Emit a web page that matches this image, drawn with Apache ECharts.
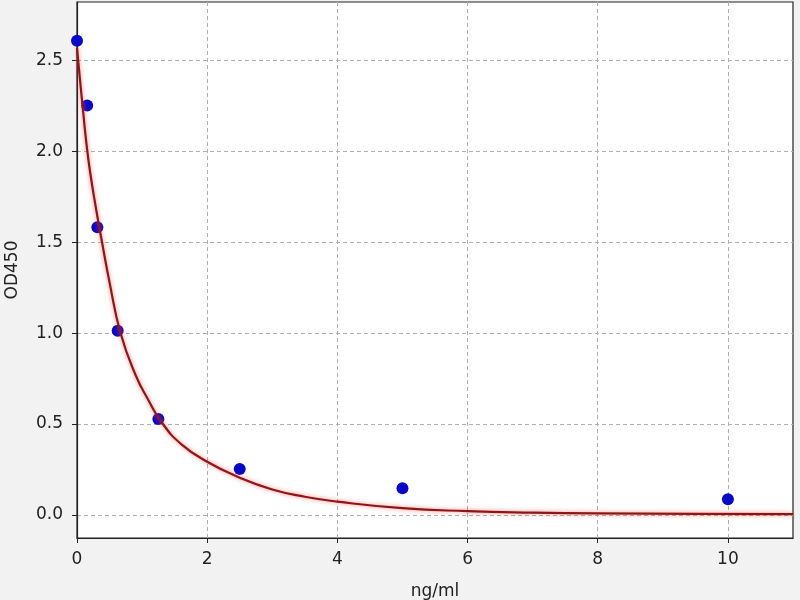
<!DOCTYPE html>
<html><head><meta charset="utf-8">
<script src="https://cdn.jsdelivr.net/npm/echarts@6/dist/echarts.min.js"></script>
<style>html,body{margin:0;padding:0;background:#f2f2f2;}#c{width:800px;height:600px;}</style>
</head><body><div id="c"></div>
<script>
// Measured standards
const conc = [0, 0.156, 0.3125, 0.625, 1.25, 2.5, 5, 10];
const od = [2.61, 2.253, 1.583, 1.014, 0.528, 0.253, 0.147, 0.086];
// Fitted curve
const curveX = [0, 0.05, 0.1, 0.14, 0.2, 0.3, 0.37, 0.5, 0.67, 0.9, 1.1, 1.3, 1.6, 2.0, 2.5, 3.0, 3.5, 4.0, 5.0, 6.0, 7.0, 8.0, 9.5, 11];
const curveY = [2.57, 2.38, 2.2, 2.06, 1.89, 1.67, 1.53, 1.28, 1.0, 0.77, 0.63, 0.51, 0.39, 0.293, 0.205, 0.14, 0.1, 0.073, 0.037, 0.021, 0.013, 0.009, 0.006, 0.004];
const xTicks = [0, 2, 4, 6, 8, 10];
const yTicks = [0, 0.5, 1.0, 1.5, 2.0, 2.5];

const chart = echarts.init(document.getElementById('c'));
const font = 'DejaVu Sans';
chart.setOption({
  backgroundColor: '#f2f2f2',
  animation: false,
  grid: {left: 77, right: 7, top: 2, bottom: 62, outerBoundsMode: 'none', containLabel: false,
    show: true, backgroundColor: '#ffffff', borderColor: '#222', borderWidth: 1.2},
  xAxis: {
    type: 'value', min: 0, max: 11,
    name: 'ng/ml', nameLocation: 'middle', nameGap: 45,
    nameTextStyle: {fontFamily: font, fontSize: 17, color: '#222'},
    axisLine: {show: true, onZero: false, lineStyle: {color: '#222', width: 1.2}},
    axisTick: {show: true, length: 5, customValues: xTicks, lineStyle: {color: '#222'}},
    axisLabel: {customValues: xTicks, fontFamily: font, fontSize: 17, color: '#222', margin: 13},
    splitLine: {show: true, lineStyle: {color: '#b0b0b0', type: [4, 3], width: 1}}
  },
  yAxis: {
    type: 'value', min: -0.127, max: 2.823,
    name: 'OD450', nameLocation: 'middle', nameGap: 56,
    nameTextStyle: {fontFamily: font, fontSize: 17, color: '#222'},
    axisLine: {show: true, onZero: false, lineStyle: {color: '#222', width: 1.2}},
    axisTick: {show: true, length: 5, customValues: yTicks, lineStyle: {color: '#222'}},
    axisLabel: {customValues: yTicks, fontFamily: font, fontSize: 17, color: '#222', margin: 14,
      formatter: v => v.toFixed(1)},
    splitLine: {show: true, lineStyle: {color: '#b0b0b0', type: [4, 3], width: 1}}
  },
  series: [
    {
      type: 'scatter', data: conc.map((x, i) => [x, od[i]]),
      symbolSize: 12, itemStyle: {color: '#0808c8', opacity: 1}, z: 2
    },
    {
      type: 'line', data: curveX.map((x, i) => [x, curveY[i]]),
      smooth: 0.5, showSymbol: false,
      lineStyle: {color: '#8e1616', width: 2.2, shadowColor: 'rgba(255,70,70,0.7)', shadowBlur: 4},
      z: 3
    }
  ]
});
</script>
</body></html>
